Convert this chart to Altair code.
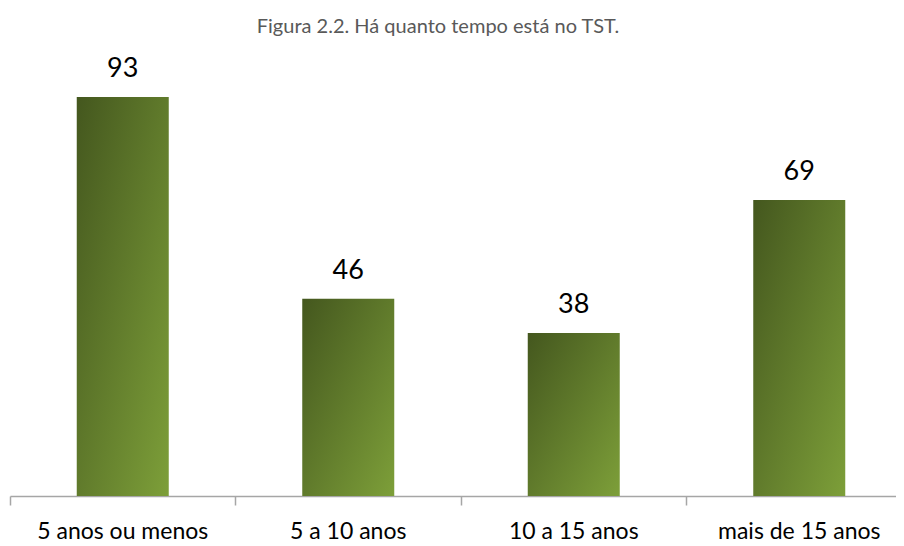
import altair as alt
import pandas as pd

categories = ["5 anos ou menos", "5 a 10 anos", "10 a 15 anos", "mais de 15 anos"]
values = [93, 46, 38, 69]

df = pd.DataFrame({"cat": categories, "val": values})

grad = alt.LinearGradient(
    gradient="linear",
    stops=[
        alt.GradientStop(color="#44571e", offset=0),
        alt.GradientStop(color="#7d9f39", offset=1),
    ],
    x1=0, y1=0, x2=1, y2=1,
)

x = alt.X(
    "cat:N",
    sort=categories,
    scale=alt.Scale(paddingInner=0, paddingOuter=0),
    axis=alt.Axis(
        title=None,
        labelAngle=0,
        bandPosition=0,
        tickColor="#a6a6a6",
        domainColor="#a6a6a6",
        domainWidth=1.5,
        tickWidth=1.5,
        tickSize=9,
        labelPadding=15,
        labelFont="Lato",
        labelFontSize=23,
        labelColor="#000000",
        labelBaseline="top",
        labelLimit=400,
        grid=False,
    ),
)
y = alt.Y("val:Q", scale=alt.Scale(domain=[0, 100]), axis=None)

bars = alt.Chart(df).mark_bar(size=92, color=grad).encode(x=x, y=y)
labels = alt.Chart(df).mark_text(
    dy=-20, baseline="alphabetic", align="center",
    font="Lato", fontSize=27, color="#000000",
).encode(x=alt.X("cat:N", sort=categories), y=y, text="val:Q")

chart = alt.layer(bars, labels).properties(
    width=902,
    height=429,
    title=alt.TitleParams(
        "Figura 2.2. Há quanto tempo está no TST.",
        font="Lato", fontSize=20, fontWeight="normal", color="#595959",
        anchor="middle", offset=18, dx=-23,
    ),
    autosize=alt.AutoSizeParams(type="none"),
    padding={"left": 2, "top": 59, "right": -16, "bottom": 50},
).configure_view(stroke=None)

chart.save("out.html", embed_options={"renderer": "svg", "actions": False})
